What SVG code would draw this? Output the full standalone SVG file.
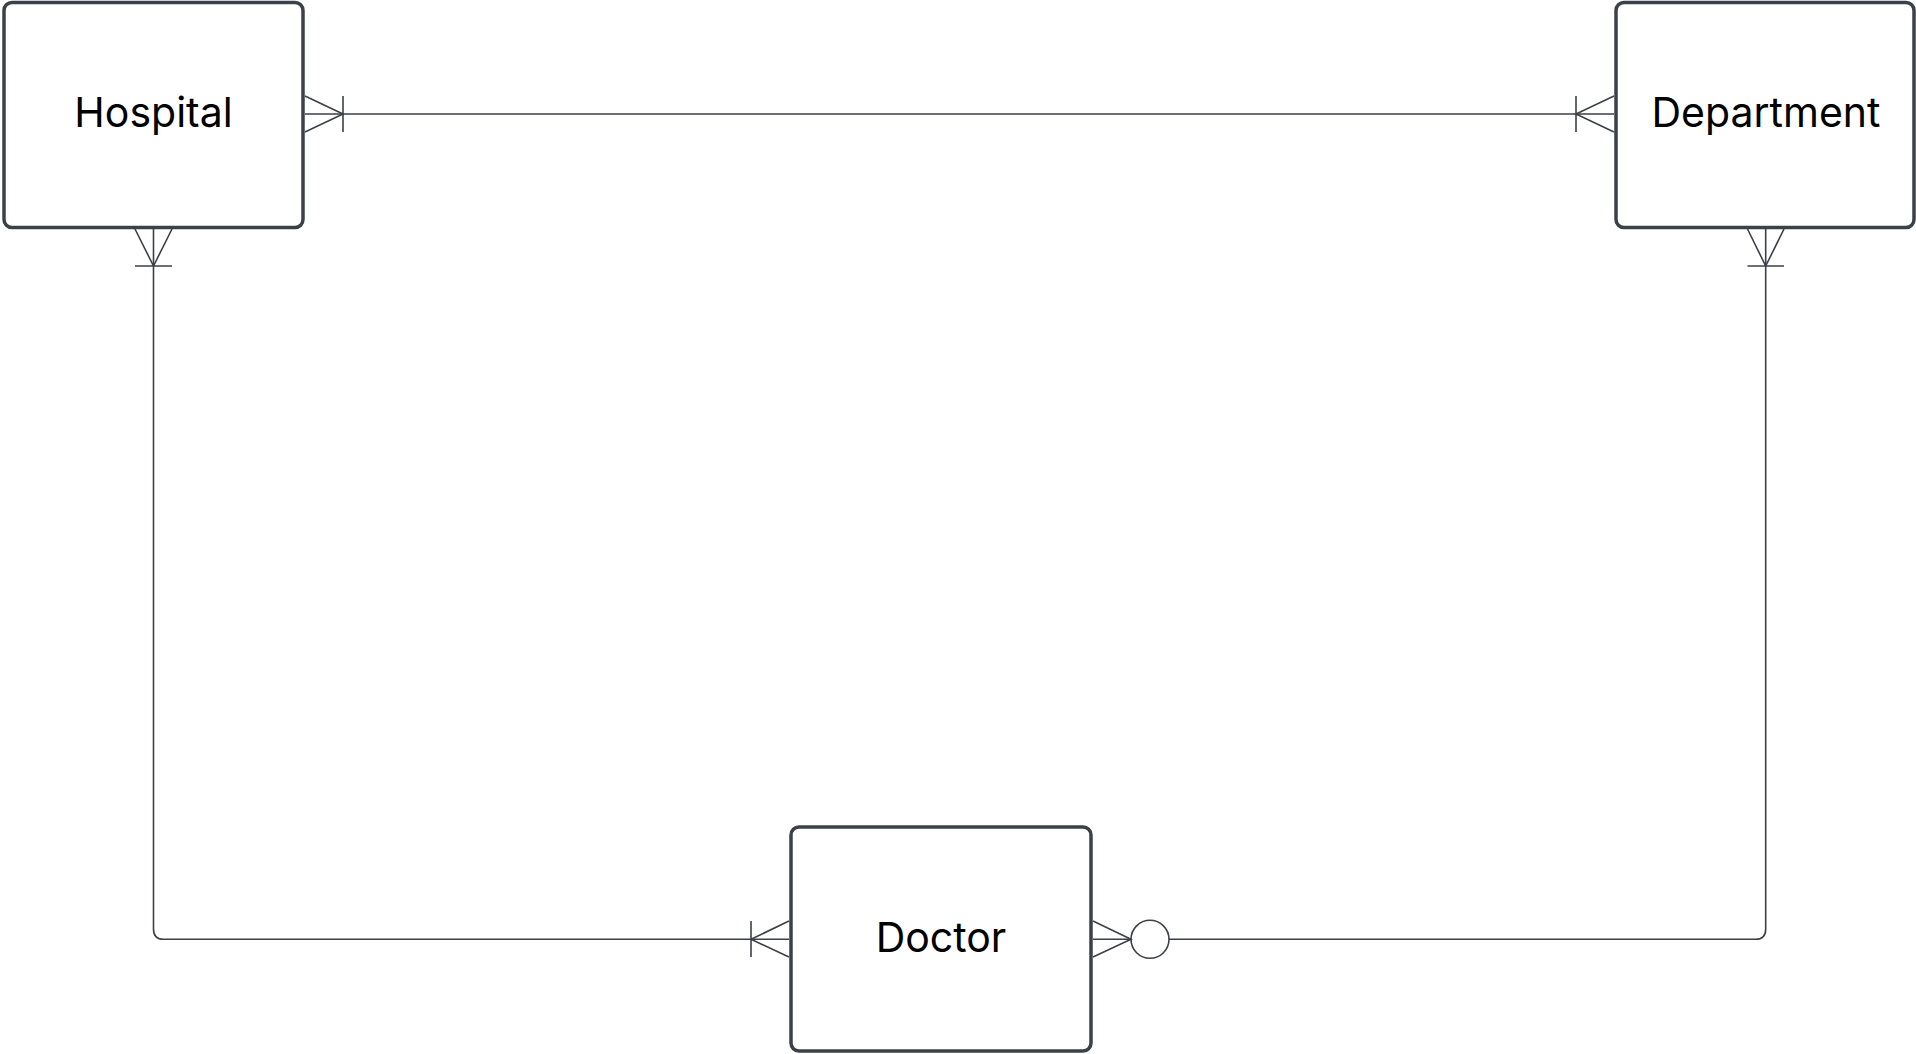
<svg xmlns="http://www.w3.org/2000/svg" width="1916" height="1054" viewBox="0 0 1916 1054">
<style>
.node rect{fill:#ffffff;stroke:#3b4049;stroke-width:3.5}
.node text{font-family:Inter,"Liberation Sans",sans-serif;font-size:41px;fill:#000000;text-anchor:middle}
.edge{fill:none;stroke:#3b4049;stroke-width:1.6}
</style>
<rect width="1916" height="1054" fill="#ffffff"/>
<g id="connectors">
  <!-- Hospital - Department -->
  <g id="e1">
    <path class="edge" d="M305 114 H1614"/>
    <path class="edge" d="M305 96 L343 114 L305 132 M343 96 V132"/>
    <path class="edge" d="M1614 96 L1576 114 L1614 132 M1576 96 V132"/>
  </g>
  <!-- Hospital - Doctor -->
  <g id="e2">
    <path class="edge" d="M153.5 229 V929 Q153.5 939.3 163.5 939.3 H789"/>
    <path class="edge" d="M135 229 L153.5 266 L172 229 M135 266 H172"/>
    <path class="edge" d="M789 921 L751 939.3 L789 957 M751 921 V957"/>
  </g>
  <!-- Doctor - Department -->
  <g id="e3">
    <path class="edge" d="M1093 939.3 H1131 M1169 939.3 H1755.7 Q1765.7 939.3 1765.7 929 V229"/>
    <path class="edge" d="M1093 921 L1131 939.3 L1093 957"/>
    <circle class="edge" cx="1150" cy="939.3" r="19"/>
    <path class="edge" d="M1747.5 229 L1765.7 266 L1784 229 M1747.5 266 H1784"/>
  </g>
</g>
<g id="node-hospital" class="node">
  <rect x="4" y="2.5" width="299" height="225" rx="8"/>
  <text x="153.5" y="127">Hospital</text>
</g>
<g id="node-department" class="node">
  <rect x="1616" y="2.5" width="298" height="225" rx="8"/>
  <text x="1766" y="127">Department</text>
</g>
<g id="node-doctor" class="node">
  <rect x="791" y="827" width="300" height="224" rx="8"/>
  <text x="941" y="952">Doctor</text>
</g>
</svg>
